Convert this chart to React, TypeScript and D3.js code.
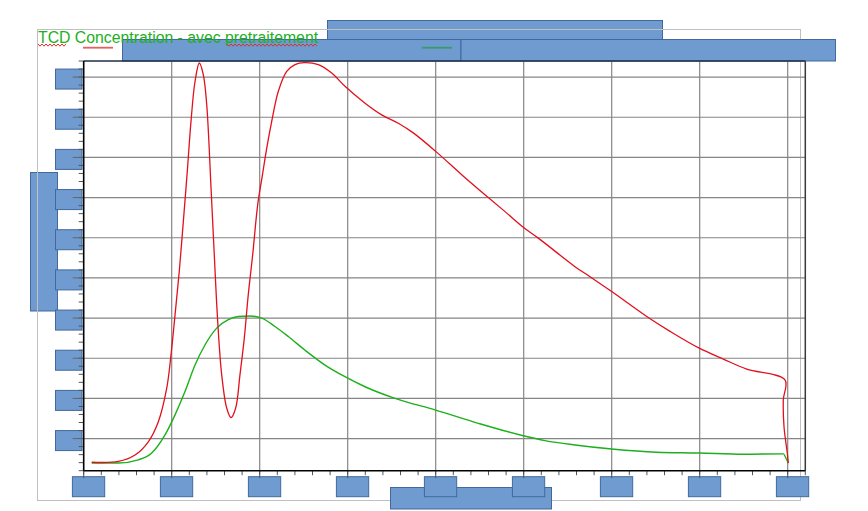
import React from 'react';
import * as d3 from 'd3';

const redX = [0.091, 0.393, 0.583, 0.734, 0.848, 0.943, 0.992, 1.038, 1.086, 1.132, 1.177, 1.219, 1.265, 1.314, 1.359, 1.398, 1.447, 1.484, 1.523, 1.568, 1.625, 1.674, 1.727, 1.776, 1.825, 1.870, 1.920, 1.977, 2.028, 2.080, 2.136, 2.211, 2.307, 2.401, 2.507, 2.666, 2.818, 2.969, 3.197, 3.386, 3.575, 3.745, 4.000, 4.295, 4.560, 4.788, 4.995, 5.166, 5.583, 5.753, 6.000, 6.398, 6.663, 6.995, 7.268, 7.534, 7.969, 7.950, 7.958, 7.995, 8.007];
const redY = [0.41, 0.43, 0.59, 0.92, 1.42, 2.25, 3.08, 4.08, 5.16, 6.40, 7.65, 8.89, 9.89, 10.35, 10.06, 9.31, 7.24, 5.57, 3.91, 2.59, 1.76, 1.52, 1.76, 2.59, 3.50, 4.58, 5.57, 6.82, 7.52, 8.23, 8.89, 9.64, 10.14, 10.31, 10.36, 10.31, 10.10, 9.77, 9.35, 9.06, 8.85, 8.61, 8.15, 7.57, 7.07, 6.65, 6.26, 5.99, 5.28, 5.03, 4.66, 4.04, 3.67, 3.25, 2.98, 2.73, 2.46, 1.96, 1.30, 0.64, 0.39];

const greenX = [0.091, 0.393, 0.620, 0.773, 0.924, 1.038, 1.151, 1.265, 1.378, 1.511, 1.643, 1.757, 1.890, 2.023, 2.174, 2.325, 2.515, 2.742, 2.969, 3.197, 3.538, 4.000, 4.484, 4.995, 5.242, 5.583, 6.000, 6.511, 6.995, 7.495, 7.950, 7.981, 8.007];
const greenY = [0.39, 0.39, 0.47, 0.64, 1.09, 1.59, 2.17, 2.83, 3.33, 3.75, 3.96, 4.04, 4.05, 4.00, 3.79, 3.54, 3.20, 2.83, 2.54, 2.29, 2.00, 1.71, 1.38, 1.07, 0.95, 0.84, 0.74, 0.66, 0.64, 0.61, 0.62, 0.51, 0.39];

const xTickValues = [0, 1, 2, 3, 4, 5, 6, 7, 8];
const yTickValues = [1, 2, 3, 4, 5, 6, 7, 8, 9, 10];
const xDomain = [0, 8.2];
const yDomain = [0.2, 10.4];
const minorStep = 0.2;
const titleText = 'TCD Concentration - avec pretraitement';

const RED = '#e2101c';
const GREEN = '#1cb01c';
const BOX_FILL = '#6f9bd0';
const BOX_STROKE = '#41699c';

function squiggle(x0: number, x1: number, yy: number) {
  let d = `M${x0},${yy}`;
  let up = true;
  for (let xx = x0 + 2; xx <= x1; xx += 2) {
    d += ` L${xx},${up ? yy + 2.2 : yy}`;
    up = !up;
  }
  return d;
}

export default function App() {
  const W = 868;
  const H = 511;
  const x = d3.scaleLinear().domain(xDomain).range([83.7, 805.3]);
  const y = d3.scaleLinear().domain(yDomain).range([470.7, 61]);
  const redLine = d3
    .line<[number, number]>()
    .x((d) => x(d[0]))
    .y((d) => y(d[1]))
    .curve(d3.curveCatmullRom.alpha(0.5));
  const greenLine = d3
    .line<[number, number]>()
    .x((d) => x(d[0]))
    .y((d) => y(d[1]))
    .curve(d3.curveMonotoneX);

  const redPts: [number, number][] = redX.map((v, i) => [v, redY[i]]);
  const greenPts: [number, number][] = greenX.map((v, i) => [v, greenY[i]]);

  const xMinor = d3.range(xDomain[0], xDomain[1] + 1e-6, minorStep);
  const yMinor = d3.range(yDomain[0], yDomain[1] + 1e-6, minorStep);

  const [x0, x1] = x.range();
  const [yb, yt] = y.range();

  const box = (bx: number, by: number, bw: number, bh: number, key: string) => (
    <rect key={key} x={bx} y={by} width={bw} height={bh} fill={BOX_FILL} stroke={BOX_STROKE} strokeWidth={1} />
  );

  return (
    <svg
      width={W}
      height={H}
      style={{ position: 'absolute', left: 0, top: 0, background: '#fff' }}
      fontFamily="'Liberation Sans', Arial, sans-serif"
    >
      <rect x={0} y={0} width={W} height={H} fill="#fff" />
      {box(327.5, 20.5, 335, 19, 'top')}
      {box(30.5, 172.5, 27, 138.5, 'left')}
      {/* outer chart frame */}
      <rect x={37.5} y={29.5} width={763} height={471} fill="none" stroke="#c0c0c0" strokeWidth={1} />
      {box(122.5, 39.5, 338.5, 21.5, 'h1')}
      {box(461, 39.5, 374.5, 21.5, 'h2')}
      {box(390.5, 487.5, 161, 21.5, 'bottom')}
      {yTickValues.map((v) => box(55.5, y(v) - 8, 26.5, 20, 'yl' + v))}
      {xTickValues.map((v) => box(x(v) - 11.3, 476.7, 32.3, 20, 'xl' + v))}

      {/* gridlines */}
      {yTickValues.map((v) => (
        <line key={'gy' + v} x1={x0} x2={x1} y1={y(v)} y2={y(v)} stroke="#858585" strokeWidth={1.2} />
      ))}
      {xTickValues.slice(1).map((v) => (
        <line key={'gx' + v} x1={x(v)} x2={x(v)} y1={yt} y2={yb} stroke="#858585" strokeWidth={1.2} />
      ))}

      {/* ticks */}
      {yMinor.map((v, i) => (
        <line key={'ym' + i} x1={x0 - 5} x2={x0} y1={y(v)} y2={y(v)} stroke="#555" strokeWidth={1} />
      ))}
      {yTickValues.map((v) => (
        <line key={'yM' + v} x1={x0 - 11} x2={x0} y1={y(v)} y2={y(v)} stroke="#666" strokeWidth={1} />
      ))}
      {xMinor.map((v, i) => (
        <line key={'xm' + i} x1={x(v)} x2={x(v)} y1={yb} y2={yb + 4.5} stroke="#555" strokeWidth={1} />
      ))}
      {xTickValues.map((v) => (
        <line key={'xM' + v} x1={x(v)} x2={x(v)} y1={yb} y2={yb + 7.5} stroke="#555" strokeWidth={1} />
      ))}

      {/* plot border */}
      <line x1={x0} x2={x1} y1={yt} y2={yt} stroke="#1e2e45" strokeWidth={1.5} />
      <line x1={x1} x2={x1} y1={yt} y2={yb} stroke="#3a3a3a" strokeWidth={1.5} />
      <line x1={x0} x2={x0} y1={yt} y2={yb} stroke="#000" strokeWidth={1.6} />
      <line x1={x0} x2={x1} y1={yb} y2={yb} stroke="#000" strokeWidth={1.6} />

      {/* series */}
      <path d={greenLine(greenPts) || ''} fill="none" stroke={GREEN} strokeWidth={1.4} />
      <path d={redLine(redPts) || ''} fill="none" stroke={RED} strokeWidth={1.3} />

      {/* title + legend */}
      <text x={38} y={42.6} fontSize={15.8} fill={GREEN}>
        {titleText}
      </text>
      <path d={squiggle(38, 67, 44)} fill="none" stroke="#e03030" strokeWidth={1} />
      <path d={squiggle(227, 317, 44)} fill="none" stroke="#e03030" strokeWidth={1} />
      <line x1={83} x2={113} y1={47.7} y2={47.7} stroke="#e56060" strokeWidth={1.8} />
      <line x1={421.7} x2={452} y1={47.7} y2={47.7} stroke="#3a9c6c" strokeWidth={1.8} />
    </svg>
  );
}
